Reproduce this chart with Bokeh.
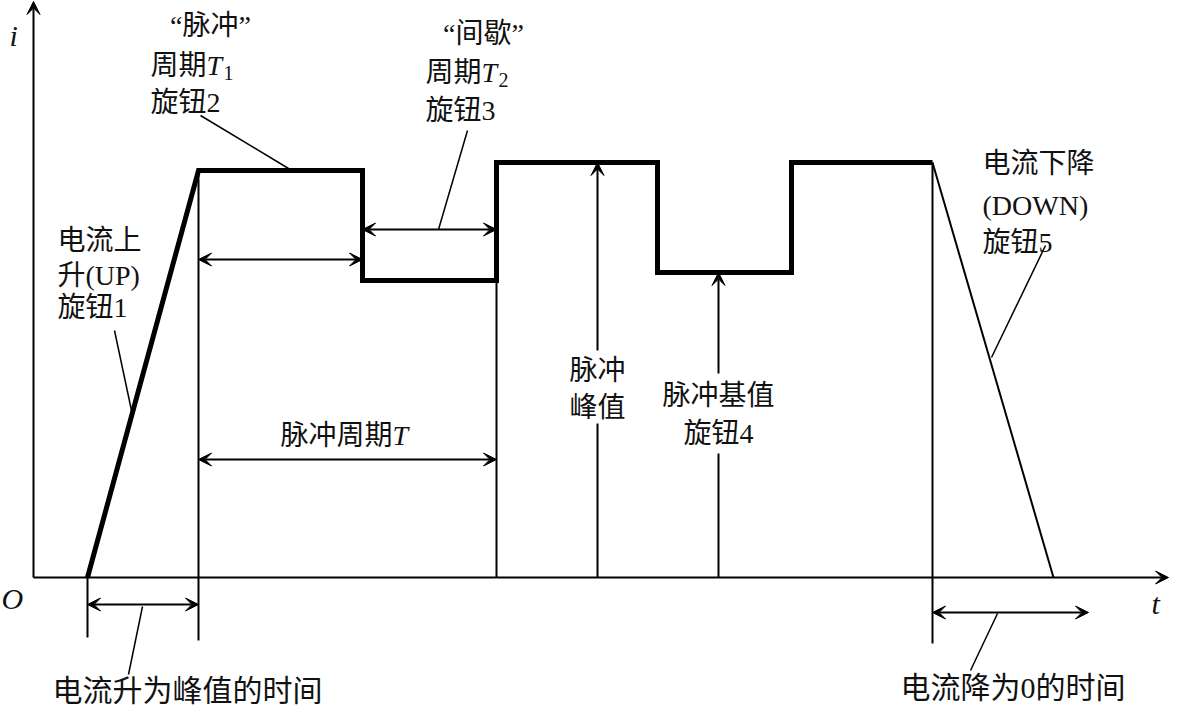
from bokeh.plotting import figure
from bokeh.models import Range1d, Arrow, VeeHead
from bokeh.embed import file_html
from bokeh.resources import INLINE
from bokeh.core.properties import value

# ---- data: pulsed current waveform (t, i), origin at O ----
wave_t = [54, 165, 329, 329, 463, 463, 624, 624, 758, 758, 899]
wave_i = [0, 407, 407, 297, 297, 415, 415, 305, 305, 415, 415]
down_t = [899, 1020]
down_i = [415, 0]

# reference-pixel helpers for annotation layout
def X(px):
    return px - 33

def Y(py):
    return 577 - py

FONT = value("Liberation Serif, Noto Sans CJK SC")
SERIF = value("Liberation Serif")

p = figure(width=1170, height=707, x_range=Range1d(X(0), X(1170)), y_range=Range1d(Y(707), Y(0)),
           output_backend="svg", toolbar_location=None, x_axis_type=None, y_axis_type=None,
           min_border=0, outline_line_color=None, background_fill_color="white")
p.xgrid.visible = False
p.ygrid.visible = False

def head():
    return VeeHead(size=13, fill_color="black", line_color="black", line_width=1)

# axes with arrows
p.add_layout(Arrow(end=head(), x_start=X(33), y_start=0, x_end=X(1168), y_end=0, line_width=2))
p.add_layout(Arrow(end=head(), x_start=0, y_start=0, x_end=0, y_end=Y(1), line_width=2))

# waveform
p.line(wave_t, wave_i, line_width=5, line_color="black", line_join="miter")
p.line(down_t, down_i, line_width=2, line_color="black")

# thin vertical reference lines
vx = [X(87), X(198), X(496), X(932)]
vy0 = [Y(637), Y(640), 0, Y(643)]
vy1 = [0, wave_i[1], wave_i[3], wave_i[-1]]
p.segment(vx, vy0, vx, vy1, line_width=2, line_color="black")

# peak / base arrows (with gap for text)
p.segment([X(597), X(718)], [0, 0], [X(597), X(718)], [Y(423), Y(453)], line_width=2, line_color="black")
p.add_layout(Arrow(end=head(), x_start=X(597), y_start=Y(350), x_end=X(597), y_end=wave_i[5], line_width=2))
p.add_layout(Arrow(end=head(), x_start=X(718), y_start=Y(373), x_end=X(718), y_end=wave_i[7], line_width=2))

# double arrows
dbl = [(87, 198, 604), (198, 362, 259), (362, 496, 229), (198, 496, 459), (932, 1088, 612)]
for a, b, yy in dbl:
    p.add_layout(Arrow(start=head(), end=head(), x_start=X(a), y_start=Y(yy), x_end=X(b), y_end=Y(yy), line_width=2))

# leader lines
lead = [((200, 115), (288, 168)), ((467, 130), (438, 229)), ((114, 330), (131, 410)),
        ((1045, 245), (991, 357)), ((142, 606), (128, 674)), ((997, 613), (970, 670))]
p.segment([X(a[0]) for a, b in lead], [Y(a[1]) for a, b in lead],
          [X(b[0]) for a, b in lead], [Y(b[1]) for a, b in lead], line_width=1.5, line_color="black")

def txt(s, px, py, size=28, align="left", font=FONT, style="normal"):
    p.text([X(px)], [Y(py)], text=[s], text_font=font, text_font_size=value(f"{size}px"),
           text_align=align, text_baseline="middle", text_color="#111111", text_font_style=style)

# axis letters
txt("i", 9, 35, 30, font=SERIF, style="italic")
txt("O", 1, 598, 30, font=SERIF, style="italic")
txt("t", 1151, 603, 30, font=SERIF, style="italic")

# knob 2
txt("“脉冲”", 210, 25, align="center")
txt("周期", 150, 65)
txt("T", 206, 65, font=SERIF, style="italic")
txt("1", 223, 72, 20, font=SERIF)
txt("旋钮2", 150, 102)

# knob 3
txt("“间歇”", 483, 33, align="center")
txt("周期", 425, 72)
txt("T", 481, 72, font=SERIF, style="italic")
txt("2", 498, 79, 20, font=SERIF)
txt("旋钮3", 425, 110)

# knob 1
txt("电流上", 57, 240)
txt("升(UP)", 57, 275)
txt("旋钮1", 57, 307)

# pulse period
txt("脉冲周期", 280, 435)
txt("T", 392, 435, font=SERIF, style="italic")

# peak
txt("脉冲", 597, 370, align="center")
txt("峰值", 597, 407, align="center")

# base / knob 4
txt("脉冲基值", 718, 395, align="center")
txt("旋钮4", 718, 433, align="center")

# knob 5
txt("电流下降", 982, 163)
txt("(DOWN)", 982, 205)
txt("旋钮5", 982, 242)

# bottom labels
txt("电流升为峰值的时间", 52, 690, 30)
txt("电流降为0的时间", 900, 687, 30)

open("out.html", "w").write(file_html(p, INLINE))
